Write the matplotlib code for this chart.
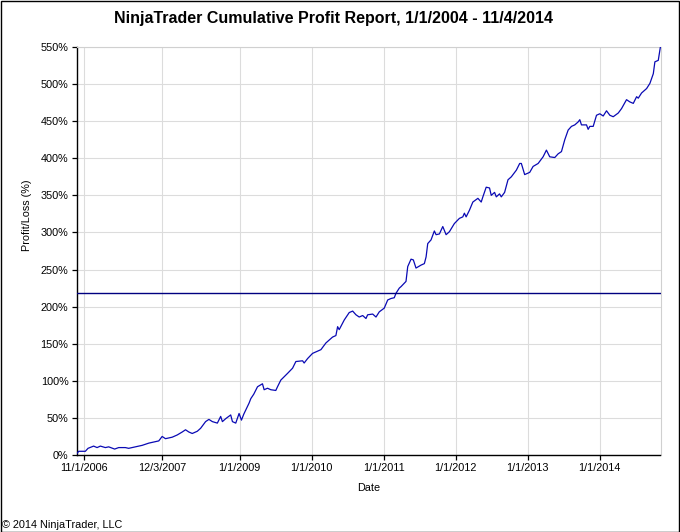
import matplotlib
matplotlib.use("Agg")
import matplotlib.pyplot as plt
import matplotlib.dates as mdates
import matplotlib.ticker as mticker
import pandas as pd
import numpy as np
from matplotlib.patches import Rectangle

plt.rcParams['font.family'] = ['Liberation Sans', 'DejaVu Sans']

# Dates as decimal years, cumulative profit in %
date_years = [
    2006.742, 2006.765, 2006.858, 2006.895, 2006.973, 2007.021, 2007.067, 2007.136,
    2007.182, 2007.265, 2007.321, 2007.414, 2007.460, 2007.554, 2007.647, 2007.739,
    2007.832, 2007.878, 2007.925, 2007.971, 2008.064, 2008.134, 2008.203, 2008.249,
    2008.295, 2008.342, 2008.412, 2008.458, 2008.527, 2008.573, 2008.621, 2008.690,
    2008.736, 2008.760, 2008.806, 2008.875, 2008.899, 2008.945, 2008.991, 2009.024,
    2009.056, 2009.130, 2009.154, 2009.195, 2009.247, 2009.316, 2009.339, 2009.386,
    2009.432, 2009.501, 2009.525, 2009.571, 2009.664, 2009.734, 2009.780, 2009.873,
    2009.895, 2009.943, 2010.012, 2010.128, 2010.197, 2010.290, 2010.336, 2010.360,
    2010.382, 2010.452, 2010.521, 2010.569, 2010.615, 2010.660, 2010.708, 2010.754,
    2010.777, 2010.847, 2010.893, 2010.939, 2011.008, 2011.056, 2011.102, 2011.147,
    2011.171, 2011.217, 2011.241, 2011.310, 2011.334, 2011.380, 2011.412, 2011.449,
    2011.519, 2011.565, 2011.589, 2011.612, 2011.658, 2011.704, 2011.728, 2011.774,
    2011.821, 2011.867, 2011.913, 2011.982, 2012.052, 2012.099, 2012.121, 2012.145,
    2012.191, 2012.238, 2012.308, 2012.354, 2012.377, 2012.423, 2012.469, 2012.493,
    2012.539, 2012.563, 2012.608, 2012.632, 2012.678, 2012.725, 2012.771, 2012.841,
    2012.887, 2012.910, 2012.956, 2013.026, 2013.073, 2013.143, 2013.212, 2013.258,
    2013.304, 2013.374, 2013.421, 2013.467, 2013.513, 2013.560, 2013.606, 2013.652,
    2013.699, 2013.722, 2013.745, 2013.815, 2013.838, 2013.861, 2013.908, 2013.954,
    2014.000, 2014.047, 2014.093, 2014.139, 2014.186, 2014.256, 2014.302, 2014.371,
    2014.417, 2014.465, 2014.511, 2014.534, 2014.580, 2014.626, 2014.650, 2014.696,
    2014.743, 2014.765, 2014.812, 2014.835, 2014.843,
]
profit_pct = [
    2, 5, 5, 9, 12, 10, 12, 10,
    11, 8, 10, 10, 9, 11, 13, 16,
    18, 19, 25, 22, 24, 27, 31, 34,
    31, 29, 32, 36, 45, 48, 45, 43,
    52, 45, 49, 54, 45, 43, 56, 47,
    55, 70, 76, 82, 92, 96, 88, 90,
    88, 87, 92, 101, 110, 117, 126, 127,
    124, 130, 137, 142, 151, 159, 161, 173,
    169, 182, 192, 194, 189, 186, 188, 184,
    189, 190, 186, 193, 198, 209, 211, 212,
    218, 225, 227, 234, 254, 264, 263, 252,
    256, 258, 267, 285, 290, 302, 297, 298,
    308, 297, 301, 312, 319, 321, 326, 321,
    330, 341, 346, 341, 348, 361, 360, 350,
    354, 348, 352, 348, 354, 371, 375, 384,
    393, 393, 378, 381, 389, 393, 402, 411,
    402, 401, 406, 409, 425, 438, 443, 445,
    449, 452, 445, 445, 439, 443, 443, 458,
    460, 457, 464, 458, 456, 461, 467, 479,
    476, 474, 483, 481, 488, 492, 494, 501,
    514, 530, 532, 546, 551,
]
reference_level = 218  # horizontal line (%)

tick_dates = ["2006-11-01", "2007-12-03", "2009-01-01", "2010-01-01",
              "2011-01-01", "2012-01-01", "2013-01-01", "2014-01-01"]
tick_labels = ["11/1/2006", "12/3/2007", "1/1/2009", "1/1/2010",
               "1/1/2011", "1/1/2012", "1/1/2013", "1/1/2014"]
y_ticks = list(range(0, 551, 50))

title = "NinjaTrader Cumulative Profit Report, 1/1/2004 - 11/4/2014"


def dec_to_date(y):
    yr = int(np.floor(y))
    start = pd.Timestamp(year=yr, month=1, day=1)
    end = pd.Timestamp(year=yr + 1, month=1, day=1)
    return start + (end - start) * (y - yr)


dates = [dec_to_date(v) for v in date_years]

W, H = 680, 532
fig = plt.figure(figsize=(W / 100, H / 100), dpi=100)
ax = fig.add_axes([77 / W, 1 - 455 / H, (660.5 - 77) / W, (455 - 47) / H])

ax.plot(dates, profit_pct, color='#0a0ab4', lw=0.9, zorder=3)
ax.axhline(reference_level, color='#000080', lw=1.0, zorder=4)

ax.set_xlim(dates[0], dates[-1])
ax.set_ylim(0, 550)

ax.set_xticks([pd.Timestamp(d) for d in tick_dates])
ax.set_xticklabels(tick_labels)
ax.set_yticks(y_ticks)
ax.yaxis.set_major_formatter(mticker.FuncFormatter(lambda v, p: f"{int(v)}%"))

ax.grid(True, color='#dcdcdc', lw=0.8, zorder=0)
ax.set_axisbelow(True)
for s in ['top', 'right']:
    ax.spines[s].set_color('#d0d0d0')
    ax.spines[s].set_linewidth(0.8)
for s in ['left', 'bottom']:
    ax.spines[s].set_color('black')
    ax.spines[s].set_linewidth(1.0)

ax.tick_params(axis='both', direction='out', length=3.6, width=0.9,
               labelsize=7.8, colors='black', pad=2.5)

fig.text(333 / W, 1 - 19 / H, title, ha='center', va='center',
         fontsize=11.5, fontweight='bold')
fig.text(27 / W, 1 - 215 / H, "Profit/Loss (%)", ha='center', va='center',
         rotation=90, fontsize=7.8)
fig.text(368.5 / W, 1 - 488 / H, "Date", ha='center', va='center', fontsize=7.8)
fig.text(2 / W, 1 - 525 / H, "\u00a9 2014 NinjaTrader, LLC", ha='left',
         va='center', fontsize=7.8)

fig.patches.append(Rectangle((0.5 / W, 0.5 / H), 1 - 1.5 / W, 1 - 1.5 / H,
                             transform=fig.transFigure, fill=False,
                             edgecolor='black', lw=1.0))

fig.savefig("out.png", dpi=100)
